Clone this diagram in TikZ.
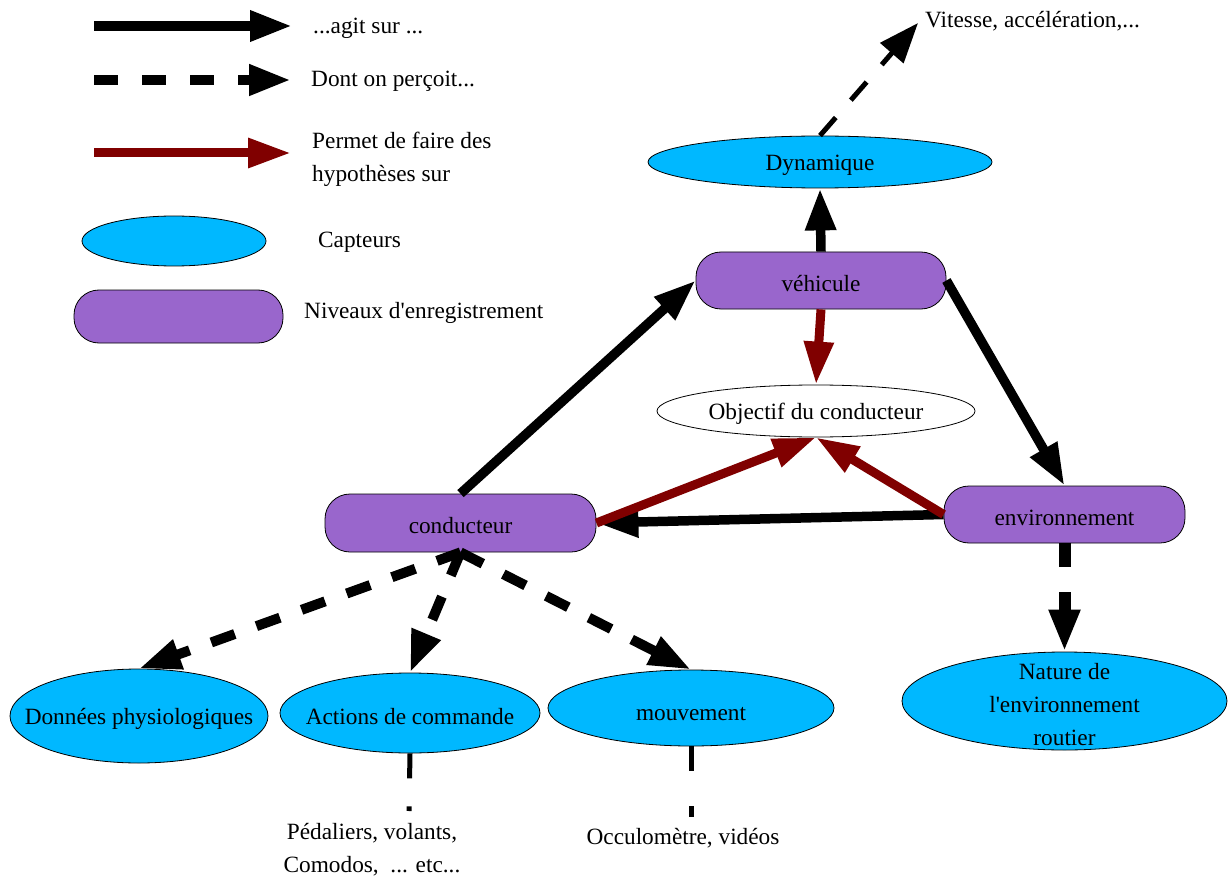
\documentclass[tikz,border=0pt]{standalone}
\usepackage{fontspec}
\setmainfont{Liberation Serif}[Ligatures=TeXOff]
\usetikzlibrary{arrows.meta,shapes.geometric}
\definecolor{purp}{RGB}{153,102,204}
\definecolor{cyanfill}{RGB}{0,184,255}
\definecolor{dred}{RGB}{128,0,0}
\begin{document}
\begin{tikzpicture}[x=1pt,y=-1pt,
  every node/.style={font=\fontsize{23.3}{33}\selectfont},
  level/.style={draw=black, line width=0.8pt, fill=purp, rounded corners=25pt, inner sep=0pt},
  sensor/.style={ellipse, draw=black, line width=0.8pt, fill=cyanfill, inner sep=0pt},
  txt/.style={inner sep=0pt},
  lab/.style={txt, yshift=-3pt},
  acts/.style={line width=9.5pt, -{Triangle[length=42pt,width=29pt]}},
  perc/.style={line width=10pt, dash pattern=on 25pt off 23pt, -{Triangle[length=42pt,width=29pt]}},
  hyp/.style={dred, line width=9pt, -{Triangle[length=43pt,width=28pt]}},
  thindash/.style={line width=5pt, dash pattern=on 24pt off 23pt},
]
\useasboundingbox (0,0) rectangle (1228,877);

% legend
\coordinate (l1a) at (94,26);  \coordinate (l1b) at (292,26);
\coordinate (l2a) at (94,80);  \coordinate (l2b) at (291,80);
\coordinate (l3a) at (94,153); \coordinate (l3b) at (291,153);
\draw[acts] (l1a) -- (l1b);
\draw[perc, dash pattern=on 24pt off 24pt] (l2a) -- (l2b);
\draw[hyp] (l3a) -- (l3b);
\node[txt, anchor=west] (t1) at (313,28) {...agit sur ...};
\node[txt, anchor=west] (t2) at (311,81) {Dont on perçoit...};
\node[txt, anchor=west, align=left] (t3) at (312,159) {Permet de faire des\\hypothèses sur};
\node[sensor, minimum width=184pt, minimum height=50pt] (lcap) at (174,241) {};
\node[txt, anchor=west] (t4) at (318,242) {Capteurs};
\node[level, minimum width=209pt, minimum height=53pt] (llev) at (178.5,316.5) {};
\node[txt, anchor=west] (t5) at (304,313) {Niveaux d'enregistrement};

% main nodes
\node[sensor, minimum width=344pt, minimum height=52pt, label={[lab]center:Dynamique}] (dyn) at (820,162) {};
\node[txt, anchor=west] (vit) at (925,21) {Vitesse, accélération,...};
\coordinate (vittip) at (918,23);
\node[level, minimum width=250pt, minimum height=57pt, label={[lab]center:véhicule}] (veh) at (821,280.5) {};
\node[ellipse, draw=black, line width=0.8pt, fill=white, inner sep=0pt, minimum width=318pt, minimum height=52pt, label={[lab]center:Objectif du conducteur}] (obj) at (816,411) {};
\node[level, minimum width=271pt, minimum height=58pt, label={[lab]center:conducteur}] (cond) at (460.5,523) {};
\node[level, minimum width=241pt, minimum height=57pt, label={[lab]center:environnement}] (env) at (1064.5,514.5) {};
\node[sensor, minimum width=258pt, minimum height=94pt, label={[lab]center:Données physiologiques}] (don) at (139,716) {};
\node[sensor, minimum width=260pt, minimum height=80pt, label={[lab, yshift=-1pt]center:Actions de commande}] (actn) at (410,713) {};
\node[sensor, minimum width=286pt, minimum height=76pt, label={[lab, yshift=-3pt]center:mouvement}] (mouv) at (691,708) {};
\node[sensor, minimum width=325pt, minimum height=98pt] (nat) at (1064.5,701) {};
\node[txt, align=center] (natt) at (1064.5,705) {Nature de\\l'environnement\\routier};
\node[txt, align=center] (ped) at (372,850) {Pédaliers, volants,\\Comodos,~ ... etc...};
\node[txt] (occ) at (683,838) {Occulomètre, vidéos};
\coordinate (pedtop) at (409,811);
\coordinate (occtop) at (691,817);

% connectors
\draw[thindash, -{Triangle[length=40pt,width=30pt]}] (dyn.north) -- (vittip);
\draw[acts] (veh.north) -- (dyn.south);
\draw[acts] (cond.north) -- (veh.west);
\draw[acts] (veh.east) -- (env.north);
\draw[acts] (env.west) -- (cond.east);
\draw[hyp] (veh.south) -- (obj.north);
\draw[hyp] (cond.east) -- (obj.south);
\draw[hyp] (env.west) -- (obj.south);
\draw[perc] (cond.south) -- (don.north);
\draw[perc] (cond.south) -- (actn.north);
\draw[perc] (cond.south) -- (mouv.north);
\draw[perc, line width=12pt, dash pattern=on 24pt off 25pt] (env.south) -- (nat.north);
\draw[thindash, dash pattern=on 25pt off 28pt] (actn.south) -- (pedtop);
\draw[thindash, dash pattern=on 25pt off 35pt] (mouv.south) -- (occtop);
\end{tikzpicture}
\end{document}
